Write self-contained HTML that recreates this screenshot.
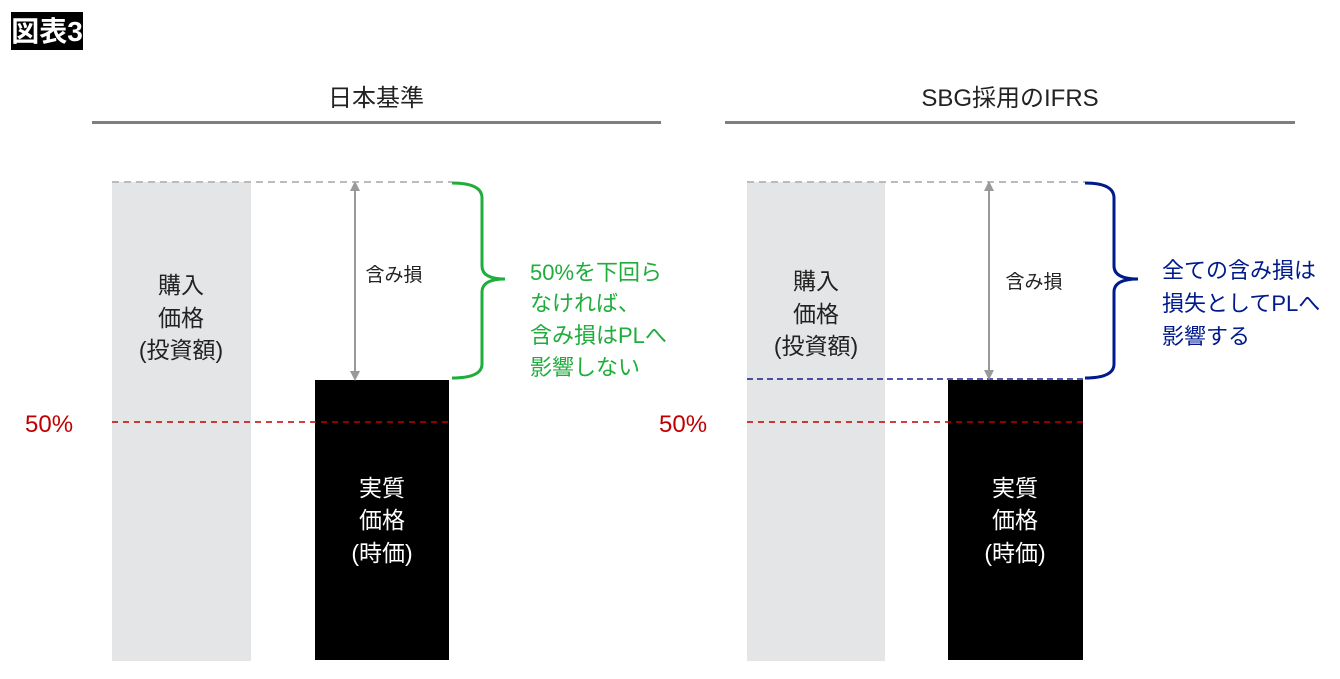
<!DOCTYPE html>
<html><head><meta charset="utf-8"><style>
html,body{margin:0;padding:0;background:#fff;}
svg{display:block;}
text{font-family:"Liberation Sans","Noto Sans CJK JP",sans-serif;}
</style></head><body>
<svg width="1340" height="679" viewBox="0 0 1340 679" xmlns="http://www.w3.org/2000/svg">
<defs>
<marker id="ah" viewBox="0 0 10 10" refX="5" refY="5" markerWidth="10" markerHeight="10" orient="auto-start-reverse" markerUnits="userSpaceOnUse">
<path d="M0,0 L10,5 L0,10 z" fill="#999"/></marker>
</defs>
<rect x="11" y="12" width="72" height="38" fill="#000"/>
<text x="47" y="41" font-size="28" font-weight="bold" fill="#fff" text-anchor="middle">図表3</text>

<text x="376" y="106" font-size="24" fill="#222" text-anchor="middle">日本基準</text>
<rect x="92" y="121" width="569" height="3" fill="#7f7f7f"/>
<rect x="112" y="182" width="139" height="479" fill="#e4e5e7"/>
<rect x="315" y="380" width="134" height="280" fill="#000"/>
<line x1="112" y1="182" x2="452" y2="182" stroke="#bbb" stroke-width="2" stroke-dasharray="7,5"/>
<line x1="112" y1="422" x2="449" y2="422" stroke="#c00000" stroke-width="1.5" stroke-dasharray="6,5"/>
<line x1="355" y1="186" x2="355" y2="376" stroke="#999" stroke-width="2" marker-start="url(#ah)" marker-end="url(#ah)"/>
<path d="M452,183 Q482,183 482,198 L482,266 Q482,279 505,279 Q482,279 482,292 L482,364 Q482,378 452,378" fill="none" stroke="#1fad3c" stroke-width="3"/>
<text x="181" y="293" font-size="23" fill="#222" text-anchor="middle">購入</text>
<text x="181" y="326" font-size="23" fill="#222" text-anchor="middle">価格</text>
<text x="181" y="358" font-size="23" fill="#222" text-anchor="middle">(投資額)</text>
<text x="394" y="281" font-size="19" fill="#222" text-anchor="middle">含み損</text>
<text x="382" y="496" font-size="23" fill="#fff" text-anchor="middle">実質</text>
<text x="382" y="528" font-size="23" fill="#fff" text-anchor="middle">価格</text>
<text x="382" y="561" font-size="23" fill="#fff" text-anchor="middle">(時価)</text>
<text x="25" y="432" font-size="24" fill="#c00000">50%</text>
<g font-size="22" fill="#1fad3c">
<text x="530" y="280">50%を下回ら</text>
<text x="530" y="311">なければ、</text>
<text x="530" y="343">含み損はPLへ</text>
<text x="530" y="375">影響しない</text>
</g>

<text x="1010" y="106" font-size="24" fill="#222" text-anchor="middle">SBG採用のIFRS</text>
<rect x="725" y="121" width="570" height="3" fill="#7f7f7f"/>
<rect x="747" y="182" width="138" height="479" fill="#e4e5e7"/>
<rect x="948" y="380" width="135" height="280" fill="#000"/>
<line x1="747" y1="182" x2="1085" y2="182" stroke="#bbb" stroke-width="2" stroke-dasharray="7,5"/>
<line x1="747" y1="379" x2="1083" y2="379" stroke="#1a1a8c" stroke-width="1.5" stroke-dasharray="6,4"/>
<line x1="747" y1="422" x2="1083" y2="422" stroke="#c00000" stroke-width="1.5" stroke-dasharray="6,5"/>
<line x1="989" y1="186" x2="989" y2="375" stroke="#999" stroke-width="2" marker-start="url(#ah)" marker-end="url(#ah)"/>
<path d="M1085,183 Q1114,183 1114,198 L1114,266 Q1114,279 1138,279 Q1114,279 1114,292 L1114,364 Q1114,378 1085,378" fill="none" stroke="#001a8c" stroke-width="3"/>
<text x="816" y="289" font-size="23" fill="#222" text-anchor="middle">購入</text>
<text x="816" y="322" font-size="23" fill="#222" text-anchor="middle">価格</text>
<text x="816" y="354" font-size="23" fill="#222" text-anchor="middle">(投資額)</text>
<text x="1034" y="288" font-size="19" fill="#222" text-anchor="middle">含み損</text>
<text x="1015" y="496" font-size="23" fill="#fff" text-anchor="middle">実質</text>
<text x="1015" y="528" font-size="23" fill="#fff" text-anchor="middle">価格</text>
<text x="1015" y="561" font-size="23" fill="#fff" text-anchor="middle">(時価)</text>
<text x="659" y="432" font-size="24" fill="#c00000">50%</text>
<g font-size="22" fill="#001a8c">
<text x="1162" y="278">全ての含み損は</text>
<text x="1162" y="311">損失としてPLへ</text>
<text x="1162" y="344">影響する</text>
</g>
</svg>
</body></html>
